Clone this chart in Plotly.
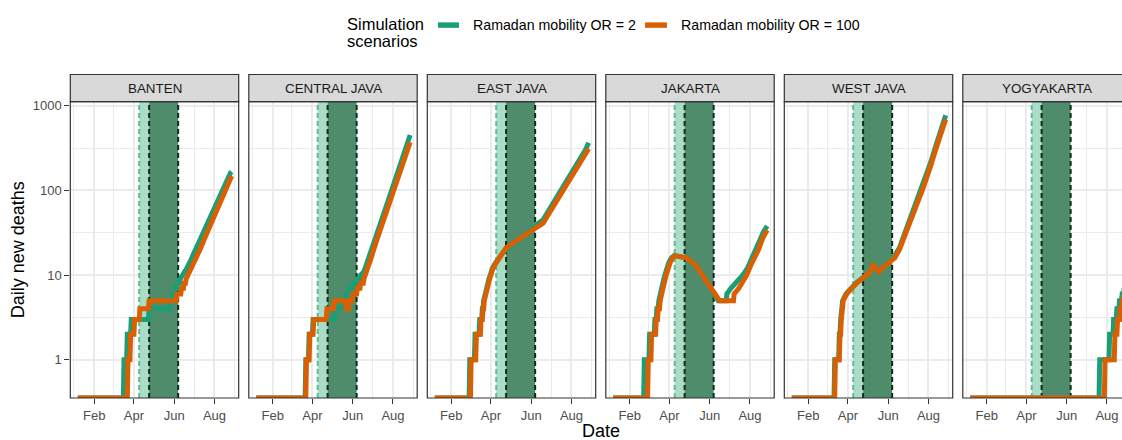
import pandas as pd
import plotly.graph_objects as go

# ---------------- data (daily values, listed where they change) ----------------
provinces = ["BANTEN", "CENTRAL JAVA", "EAST JAVA", "JAKARTA", "WEST JAVA", "YOGYAKARTA"]
scenario_names = ["Ramadan mobility OR = 2", "Ramadan mobility OR = 100"]
scenario_colors = ["#1b9e77", "#d95f02"]
YEAR = "2020-"

month_ticks = ["2020-02-01", "2020-04-01", "2020-06-01", "2020-08-01"]
month_labels = ["Feb", "Apr", "Jun", "Aug"]
month_minor = ["2020-01-01", "2020-03-01", "2020-05-01", "2020-07-01", "2020-08-31 12:00"]
death_ticks = [1, 10, 100, 1000]
death_labels = ["1", "10", "100", "1000"]
death_minor = [3.1623, 31.623, 316.23]

light_band = ["2020-04-09", "2020-04-24"]
dark_band = ["2020-04-24", "2020-06-07"]

banten_or2_dates = ["01-07", "03-16", "03-17", "03-21", "03-22", "03-27", "03-28", "04-23", "04-24", "05-25",
                    "05-26", "05-28", "05-29", "06-01", "06-02", "06-05", "06-06", "06-09", "06-10", "06-14",
                    "06-20", "06-26", "07-02", "07-08", "07-14", "07-20", "07-26", "08-01", "08-07", "08-13",
                    "08-19", "08-25", "08-27"]
banten_or2_deaths = [0, 0, 1, 1, 2, 2, 3, 3, 4, 4,
                     5, 5, 6, 6, 7, 7, 8, 8, 9, 10,
                     12, 15, 19, 24, 30, 38, 49, 62, 80, 103,
                     132, 160, 166]
banten_or100_dates = ["01-07", "03-22", "03-23", "03-26", "03-27", "04-01", "04-02", "04-09", "04-10", "04-23",
                      "04-24", "06-04", "06-05", "06-11", "06-12", "06-15", "06-16", "06-18", "06-19", "06-22",
                      "06-28", "07-04", "07-10", "07-16", "07-22", "07-28", "08-03", "08-09", "08-15", "08-21",
                      "08-27"]
banten_or100_deaths = [0, 0, 1, 1, 2, 2, 3, 3, 4, 4,
                       5, 5, 6, 6, 7, 7, 8, 8, 9, 10,
                       13, 16, 20, 26, 33, 43, 55, 71, 92, 118,
                       148]

central_or2_dates = ["01-07", "03-21", "03-22", "03-26", "03-27", "04-01", "04-02", "05-04", "05-05", "05-14",
                     "05-15", "05-21", "05-22", "05-26", "05-27", "06-01", "06-02", "06-07", "06-08", "06-12",
                     "06-13", "06-18", "06-24", "06-30", "07-06", "07-12", "07-18", "07-24", "07-30", "08-05",
                     "08-11", "08-17", "08-23", "08-27"]
central_or2_deaths = [0, 0, 1, 1, 2, 2, 3, 3, 4, 4,
                      5, 5, 6, 6, 7, 7, 8, 8, 9, 9,
                      10, 11, 15, 21, 28, 39, 53, 73, 100, 137,
                      187, 256, 350, 450]
central_or100_dates = ["01-07", "03-22", "03-23", "03-27", "03-28", "04-02", "04-03", "04-22", "04-23", "05-03",
                       "05-04", "05-21", "05-22", "05-26", "05-27", "05-31", "06-01", "06-07", "06-08", "06-12",
                       "06-13", "06-17", "06-18", "06-24", "06-30", "07-06", "07-12", "07-18", "07-24", "07-30",
                       "08-05", "08-11", "08-17", "08-23", "08-27"]
central_or100_deaths = [0, 0, 1, 1, 2, 2, 3, 3, 4, 4,
                        5, 5, 4, 4, 5, 5, 6, 6, 7, 7,
                        8, 8, 9, 13, 17, 24, 33, 44, 61, 83,
                        113, 155, 211, 289, 370]

east_or2_dates = ["01-07", "02-28", "02-29", "03-07", "03-08", "03-14", "03-15", "03-18", "03-19", "03-20",
                  "03-21", "03-23", "03-25", "03-27", "03-29", "03-31", "04-03", "04-08", "04-13", "04-18",
                  "04-24", "05-02", "05-10", "05-18", "05-26", "06-06", "06-12", "06-19", "06-27", "07-05",
                  "07-13", "07-21", "07-29", "08-06", "08-14", "08-22", "08-27"]
east_or2_deaths = [0, 0, 1, 1, 2, 2, 3, 3, 4, 4,
                   5, 6, 7, 8, 9, 10, 12, 14, 16, 18,
                   20, 22, 24, 27, 30, 38, 41, 45, 57, 72,
                   91, 116, 146, 185, 234, 300, 365]
east_or100_dates = ["01-07", "03-01", "03-02", "03-09", "03-10", "03-16", "03-17", "03-19", "03-20", "03-21",
                    "03-22", "03-24", "03-26", "03-28", "03-30", "04-01", "04-04", "04-09", "04-14", "04-19",
                    "04-24", "05-02", "05-10", "05-18", "05-26", "06-06", "06-12", "06-19", "06-27", "07-05",
                    "07-13", "07-21", "07-29", "08-06", "08-14", "08-22", "08-27"]
east_or100_deaths = [0, 0, 1, 1, 2, 2, 3, 3, 4, 4,
                     5, 6, 7, 8, 9, 10, 12, 14, 16, 18,
                     21, 23, 25, 28, 31, 35, 37, 41, 52, 66,
                     83, 105, 133, 168, 213, 270, 310]

jakarta_or2_dates = ["01-07", "02-22", "02-23", "03-01", "03-02", "03-09", "03-10", "03-12", "03-13", "03-15",
                     "03-16", "03-19", "03-22", "03-25", "03-28", "03-31", "04-04", "04-08", "04-26", "05-02",
                     "05-07", "05-11", "05-14", "05-17", "05-21", "05-24", "05-28", "06-02", "06-08", "06-14",
                     "06-26", "06-27", "07-03", "07-10", "07-16", "07-21", "07-28", "08-03", "08-09", "08-15",
                     "08-21", "08-27"]
jakarta_or2_deaths = [0, 0, 1, 1, 2, 2, 3, 3, 4, 4,
                      5, 7, 8, 10, 12, 14, 16, 17, 16, 15,
                      14, 13, 12, 11, 10, 9, 8, 7, 6, 5,
                      5, 6, 7, 8, 9, 10, 12, 15, 19, 25,
                      32, 38]
jakarta_or100_dates = ["01-07", "02-28", "02-29", "03-04", "03-05", "03-11", "03-12", "03-14", "03-15", "03-17",
                       "03-18", "03-21", "03-24", "03-27", "03-30", "04-02", "04-06", "04-10", "04-26", "05-02",
                       "05-07", "05-11", "05-14", "05-17", "05-21", "05-24", "05-28", "06-02", "06-08", "06-16",
                       "07-07", "07-08", "07-15", "07-20", "07-24", "07-27", "08-02", "08-08", "08-14", "08-20",
                       "08-27"]
jakarta_or100_deaths = [0, 0, 1, 1, 2, 2, 3, 3, 4, 4,
                        5, 7, 8, 10, 12, 14, 16, 17, 16, 15,
                        14, 13, 12, 11, 10, 9, 8, 7, 6, 5,
                        5, 6, 7, 8, 9, 10, 13, 16, 20, 27,
                        34]

west_or2_dates = ["01-07", "03-11", "03-12", "03-18", "03-19", "03-20", "03-21", "03-22", "03-24", "03-29",
                  "04-05", "04-13", "04-21", "04-28", "05-05", "05-09", "05-13", "05-18", "05-22", "05-27",
                  "06-01", "06-06", "06-11", "06-18", "06-24", "06-30", "07-06", "07-12", "07-18", "07-24",
                  "07-30", "08-05", "08-11", "08-17", "08-23", "08-27"]
west_or2_deaths = [0, 0, 1, 1, 2, 2, 3, 4, 5, 6,
                   7, 8, 9, 10, 11, 13, 12, 11, 12, 13,
                   14, 15, 17, 21, 28, 38, 50, 66, 88, 116,
                   155, 221, 315, 449, 640, 770]
west_or100_dates = ["01-07", "03-12", "03-13", "03-19", "03-20", "03-21", "03-22", "03-23", "03-25", "03-30",
                    "04-06", "04-14", "04-22", "04-29", "05-05", "05-09", "05-13", "05-18", "05-22", "05-27",
                    "06-01", "06-06", "06-11", "06-18", "06-24", "06-30", "07-06", "07-12", "07-18", "07-24",
                    "07-30", "08-05", "08-11", "08-17", "08-23", "08-27"]
west_or100_deaths = [0, 0, 1, 1, 2, 2, 3, 4, 5, 6,
                     7, 8, 9, 10, 11, 13, 12, 11, 12, 13,
                     14, 15, 16, 20, 26, 35, 46, 61, 81, 107,
                     142, 203, 289, 411, 585, 690]

yogya_or2_dates = ["01-07", "07-20", "07-21", "08-04", "08-05", "08-10", "08-11", "08-15", "08-16", "08-19",
                   "08-20", "08-23", "08-24", "08-26", "08-27"]
yogya_or2_deaths = [0, 0, 1, 1, 2, 2, 3, 3, 4, 4,
                    5, 5, 6, 6, 7]
yogya_or100_dates = ["01-07", "07-28", "07-29", "08-12", "08-13", "08-16", "08-17", "08-20", "08-21", "08-23",
                     "08-24", "08-26", "08-27"]
yogya_or100_deaths = [0, 0, 1, 1, 2, 2, 3, 3, 4, 4,
                      5, 5, 6]

series = {
    "BANTEN": [(banten_or2_dates, banten_or2_deaths), (banten_or100_dates, banten_or100_deaths)],
    "CENTRAL JAVA": [(central_or2_dates, central_or2_deaths), (central_or100_dates, central_or100_deaths)],
    "EAST JAVA": [(east_or2_dates, east_or2_deaths), (east_or100_dates, east_or100_deaths)],
    "JAKARTA": [(jakarta_or2_dates, jakarta_or2_deaths), (jakarta_or100_dates, jakarta_or100_deaths)],
    "WEST JAVA": [(west_or2_dates, west_or2_deaths), (west_or100_dates, west_or100_deaths)],
    "YOGYAKARTA": [(yogya_or2_dates, yogya_or2_deaths), (yogya_or100_dates, yogya_or100_deaths)],
}

# ---------------- layout geometry (pixels) ----------------
W, H = 1122, 440
PANEL_LEFT0, PANEL_STEP, PANEL_W = 70.3, 178.5, 168.4
PANEL_TOP, PANEL_BOTTOM, STRIP_TOP = 99.3, 397.7, 72.0
DAY0 = pd.Timestamp("2020-01-01")
X_LEFT_DAY = -5.33
PX_PER_DAY = 0.6604
Y_LOG_RANGE = [-0.45, 3.048]
FONT = "Liberation Sans, Arial, sans-serif"

LIGHT_FILL, DARK_FILL = "#aadcc7", "#4f8c6b"
LIGHT_DASH, DARK_DASH = "#5fbb95", "#0a2c19"
GRID = "#ebebeb"
FRAME = "#333333"


def px(x):
    return x / W


def py(y):
    return 1 - y / H


def stamp(t):
    return t.strftime("%Y-%m-%d %H:%M:%S")


fig = go.Figure()
layout = dict(
    width=W, height=H, autosize=False,
    margin=dict(l=0, r=0, t=0, b=0, pad=0),
    paper_bgcolor="white", plot_bgcolor="white",
    showlegend=False,
    font=dict(family=FONT, color="#000000"),
)
shapes = []
annotations = []

y_lo, y_hi = 10 ** Y_LOG_RANGE[0], 10 ** Y_LOG_RANGE[1]  # full panel height on the log axis

for i, prov in enumerate(provinces):
    sfx = "" if i == 0 else str(i + 1)
    left = PANEL_LEFT0 + PANEL_STEP * i
    right_full = left + PANEL_W
    right = min(right_full, W)
    x_start = DAY0 + pd.Timedelta(days=X_LEFT_DAY)
    x_end = x_start + pd.Timedelta(days=(right - left) / PX_PER_DAY)

    layout["xaxis" + sfx] = dict(
        domain=[px(left), px(right)], range=[stamp(x_start), stamp(x_end)], anchor="y" + sfx,
        type="date", tickmode="array", tickvals=month_ticks, ticktext=month_labels,
        ticks="outside", ticklen=5, tickwidth=1, tickcolor=FRAME,
        tickfont=dict(family=FONT, size=13, color="#4d4d4d"),
        showgrid=True, gridcolor=GRID, gridwidth=1.6,
        minor=dict(tickvals=month_minor, showgrid=True, gridcolor=GRID, gridwidth=0.8, ticks=""),
        zeroline=False, showline=False, fixedrange=True,
    )
    layout["yaxis" + sfx] = dict(
        domain=[py(PANEL_BOTTOM), py(PANEL_TOP)], range=Y_LOG_RANGE, anchor="x" + sfx,
        type="log", tickmode="array", tickvals=death_ticks, ticktext=death_labels,
        showticklabels=(i == 0), ticks="outside" if i == 0 else "", ticklen=5, tickwidth=1,
        tickcolor=FRAME, tickfont=dict(family=FONT, size=13, color="#4d4d4d"),
        showgrid=True, gridcolor=GRID, gridwidth=1.6,
        minor=dict(tickvals=death_minor, showgrid=True, gridcolor=GRID, gridwidth=0.8, ticks=""),
        zeroline=False, showline=False, fixedrange=True,
    )

    ax = dict(xaxis="x" + sfx, yaxis="y" + sfx, hoverinfo="skip", showlegend=False)
    # Ramadan period bands (drawn as filled traces so they cover the grid, under the curves)
    for band, col in ((light_band, LIGHT_FILL), (dark_band, DARK_FILL)):
        fig.add_trace(go.Scatter(x=[band[0], band[0], band[1], band[1]], y=[y_lo, y_hi, y_hi, y_lo],
                                 mode="lines", fill="toself", fillcolor=col, line=dict(width=0), **ax))
    for d, col in ((light_band[0], LIGHT_DASH), (dark_band[0], DARK_DASH), (dark_band[1], DARK_DASH)):
        fig.add_trace(go.Scatter(x=[d, d], y=[y_lo, y_hi], mode="lines",
                                 line=dict(color=col, width=2, dash="5px,3px"), **ax))

    floor = y_lo  # zero deaths sit on the panel edge (as -Inf on a log scale)
    for s, (dates, deaths) in enumerate(series[prov]):
        fig.add_trace(go.Scatter(
            x=[YEAR + d for d in dates],
            y=[v if v > 0 else floor for v in deaths],
            mode="lines", line=dict(color=scenario_colors[s], width=5),
            name=scenario_names[s], **ax,
        ))

    # panel frame and facet strip
    shapes.append(dict(type="rect", xref="paper", yref="paper", x0=px(left), x1=px(right_full),
                       y0=py(PANEL_BOTTOM), y1=py(PANEL_TOP), line=dict(color=FRAME, width=1.2),
                       fillcolor="rgba(0,0,0,0)", layer="above"))
    shapes.append(dict(type="rect", xref="paper", yref="paper", x0=px(left), x1=px(right_full),
                       y0=py(PANEL_TOP), y1=py(STRIP_TOP), line=dict(color=FRAME, width=1.2),
                       fillcolor="#d9d9d9", layer="above"))
    annotations.append(dict(text=prov, xref="paper", yref="paper", x=px(left + PANEL_W / 2),
                            y=py((STRIP_TOP + PANEL_TOP) / 2), xanchor="center", yanchor="middle",
                            showarrow=False, font=dict(family=FONT, size=13.4, color="#1a1a1a")))

# axis titles
annotations.append(dict(text="Date", xref="paper", yref="paper", x=px(600.8), y=py(431),
                        xanchor="center", yanchor="middle", showarrow=False,
                        font=dict(family=FONT, size=18, color="#000000")))
annotations.append(dict(text="Daily new deaths", xref="paper", yref="paper", x=px(17.5),
                        y=py((PANEL_TOP + PANEL_BOTTOM) / 2), xanchor="center", yanchor="middle",
                        textangle=-90, showarrow=False, font=dict(family=FONT, size=18, color="#000000")))

# legend (drawn as a ggplot-style top legend)
annotations.append(dict(text="Simulation", xref="paper", yref="paper", x=px(345), y=py(21),
                        xanchor="left", yanchor="middle", showarrow=False,
                        font=dict(family=FONT, size=16.5, color="#000000")))
annotations.append(dict(text="scenarios", xref="paper", yref="paper", x=px(345), y=py(38),
                        xanchor="left", yanchor="middle", showarrow=False,
                        font=dict(family=FONT, size=16.5, color="#000000")))
legend_keys = [(438, 459, 471), (645, 667, 679)]
for s, (k0, k1, tx) in enumerate(legend_keys):
    shapes.append(dict(type="rect", xref="paper", yref="paper", x0=px(k0), x1=px(k1),
                       y0=py(25), y1=py(19.5), fillcolor=scenario_colors[s], line=dict(width=0),
                       layer="above"))
    annotations.append(dict(text=scenario_names[s], xref="paper", yref="paper", x=px(tx), y=py(22),
                            xanchor="left", yanchor="middle", showarrow=False,
                            font=dict(family=FONT, size=14.2, color="#000000")))

layout["shapes"] = shapes
layout["annotations"] = annotations
fig.update_layout(**layout)
fig.write_html("out.html")
